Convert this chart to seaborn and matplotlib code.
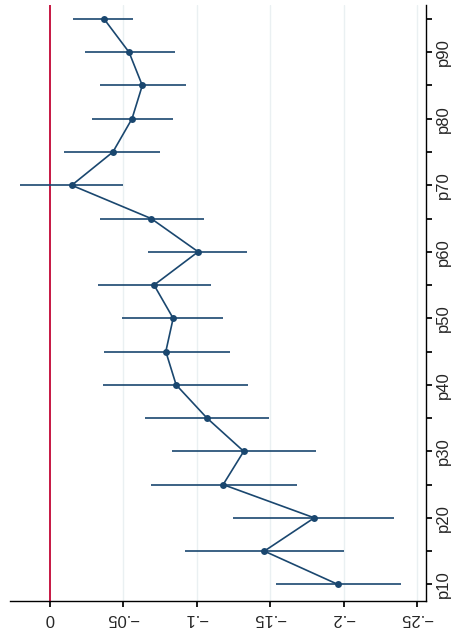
import numpy as np
import pandas as pd
import matplotlib
matplotlib.use("Agg")
import matplotlib.pyplot as plt
import seaborn as sns

pct = [10, 15, 20, 25, 30, 35, 40, 45, 50, 55, 60, 65, 70, 75, 80, 85, 90, 95]
coef = [-0.196, -0.146, -0.180, -0.118, -0.132, -0.107, -0.086, -0.079, -0.084,
        -0.071, -0.101, -0.069, -0.015, -0.043, -0.056, -0.063, -0.054, -0.037]
ci_lo = [-0.154, -0.092, -0.125, -0.069, -0.083, -0.065, -0.036, -0.037, -0.049,
         -0.033, -0.067, -0.034, 0.020, -0.010, -0.029, -0.034, -0.024, -0.016]
ci_hi = [-0.239, -0.200, -0.234, -0.168, -0.181, -0.149, -0.135, -0.123, -0.118,
         -0.110, -0.134, -0.105, -0.050, -0.075, -0.084, -0.093, -0.085, -0.057]

df = pd.DataFrame({"pct": pct, "coef": coef, "lo": ci_lo, "hi": ci_hi})
navy = "#1a476f"

sns.set_theme(style="white")
plt.rcParams["font.family"] = ["Liberation Sans", "DejaVu Sans"]
fig = plt.figure(figsize=(4.53, 6.39), dpi=100)
ax = fig.add_axes([10 / 453, 38 / 639, 416 / 453, 596 / 639])

ax.hlines(df["pct"], df["lo"], df["hi"], color=navy, lw=1.2, zorder=2)
sns.lineplot(data=df, x="coef", y="pct", sort=False, color=navy, lw=1.2,
             marker="o", markersize=5, markeredgewidth=0, ax=ax, zorder=3)
ax.axvline(0, color="#c10534", lw=1.3, zorder=1)

xt = [0, -0.05, -0.1, -0.15, -0.2, -0.25]
xl = ["0", "\u2212.05", "\u2212.1", "\u2212.15", "\u2212.2", "\u2212.25"]
ax.set_xticks(xt)
ax.set_xticklabels(xl, rotation=180, fontsize=12)
for v in xt[1:]:
    ax.axvline(v, color="#eaf0f2", lw=1, zorder=0)
ax.set_xlim(0.027, -0.256)

ax.set_yticks(pct)
ax.set_yticklabels([f"p{p}" if p % 10 == 0 else "" for p in pct], rotation=90,
                   va="center", fontsize=12)
ax.set_ylim(7.5, 97.1)
ax.yaxis.tick_right()
ax.tick_params(axis="both", length=4, color="black", direction="out",
               left=False, right=True, bottom=True)
ax.set_xlabel("")
ax.set_ylabel("")
for s in ["top", "left"]:
    ax.spines[s].set_visible(False)
for s in ["bottom", "right"]:
    ax.spines[s].set_color("black")
    ax.spines[s].set_linewidth(1)

fig.savefig("out.png", dpi=100)
